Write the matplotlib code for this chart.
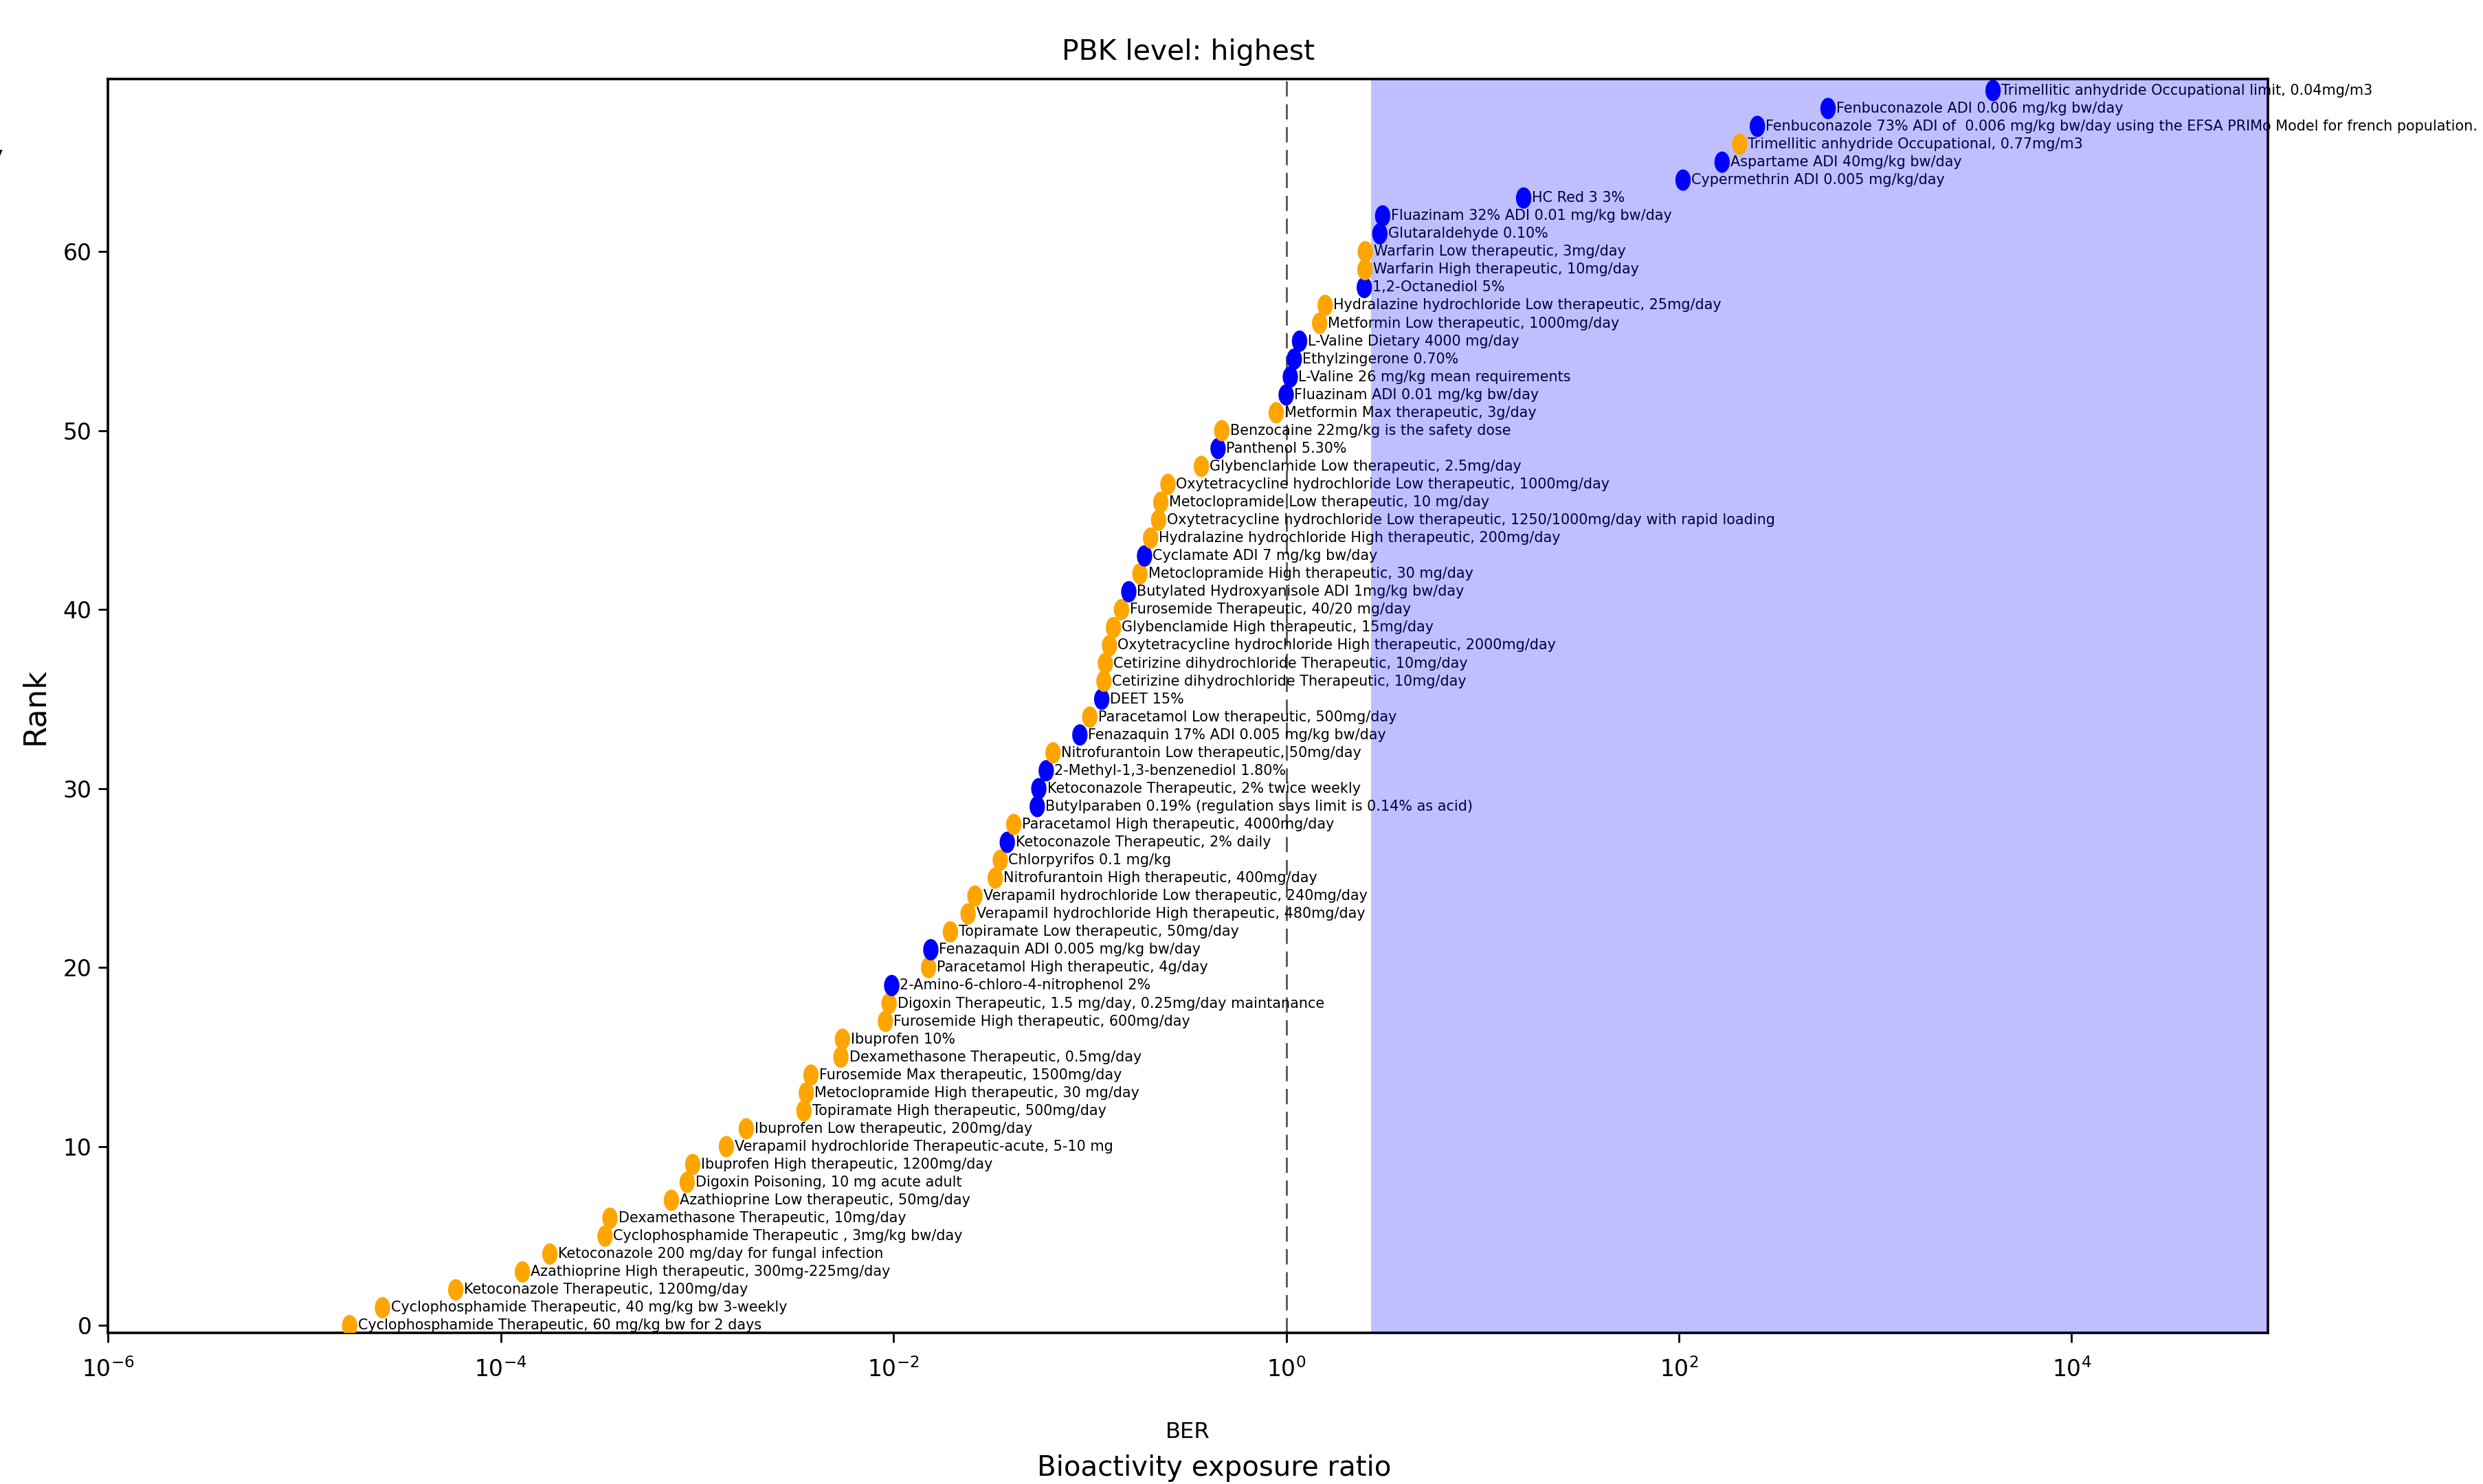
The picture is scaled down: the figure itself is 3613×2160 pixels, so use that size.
import numpy as np
import matplotlib
matplotlib.use('Agg')
import matplotlib.pyplot as plt
from matplotlib.font_manager import FontProperties
from matplotlib.path import Path
from matplotlib.ticker import NullLocator

# ranked substances (rank 0 = lowest BER)
labels = [
    "Cyclophosphamide Therapeutic, 60 mg/kg bw for 2 days",
    "Cyclophosphamide Therapeutic, 40 mg/kg bw 3-weekly",
    "Ketoconazole Therapeutic, 1200mg/day",
    "Azathioprine High therapeutic, 300mg-225mg/day",
    "Ketoconazole 200 mg/day for fungal infection",
    "Cyclophosphamide Therapeutic , 3mg/kg bw/day",
    "Dexamethasone Therapeutic, 10mg/day",
    "Azathioprine Low therapeutic, 50mg/day",
    "Digoxin Poisoning, 10 mg acute adult",
    "Ibuprofen High therapeutic, 1200mg/day",
    "Verapamil hydrochloride Therapeutic-acute, 5-10 mg",
    "Ibuprofen Low therapeutic, 200mg/day",
    "Topiramate High therapeutic, 500mg/day",
    "Metoclopramide High therapeutic, 30 mg/day",
    "Furosemide Max therapeutic, 1500mg/day",
    "Dexamethasone Therapeutic, 0.5mg/day",
    "Ibuprofen 10%",
    "Furosemide High therapeutic, 600mg/day",
    "Digoxin Therapeutic, 1.5 mg/day, 0.25mg/day maintanance",
    "2-Amino-6-chloro-4-nitrophenol 2%",
    "Paracetamol High therapeutic, 4g/day",
    "Fenazaquin ADI 0.005 mg/kg bw/day",
    "Topiramate Low therapeutic, 50mg/day",
    "Verapamil hydrochloride High therapeutic, 480mg/day",
    "Verapamil hydrochloride Low therapeutic, 240mg/day",
    "Nitrofurantoin High therapeutic, 400mg/day",
    "Chlorpyrifos 0.1 mg/kg",
    "Ketoconazole Therapeutic, 2% daily",
    "Paracetamol High therapeutic, 4000mg/day",
    "Butylparaben 0.19% (regulation says limit is 0.14% as acid)",
    "Ketoconazole Therapeutic, 2% twice weekly",
    "2-Methyl-1,3-benzenediol 1.80%",
    "Nitrofurantoin Low therapeutic, 50mg/day",
    "Fenazaquin 17% ADI 0.005 mg/kg bw/day",
    "Paracetamol Low therapeutic, 500mg/day",
    "DEET 15%",
    "Cetirizine dihydrochloride Therapeutic, 10mg/day",
    "Cetirizine dihydrochloride Therapeutic, 10mg/day",
    "Oxytetracycline hydrochloride High therapeutic, 2000mg/day",
    "Glybenclamide High therapeutic, 15mg/day",
    "Furosemide Therapeutic, 40/20 mg/day",
    "Butylated Hydroxyanisole ADI 1mg/kg bw/day",
    "Metoclopramide High therapeutic, 30 mg/day",
    "Cyclamate ADI 7 mg/kg bw/day",
    "Hydralazine hydrochloride High therapeutic, 200mg/day",
    "Oxytetracycline hydrochloride Low therapeutic, 1250/1000mg/day with rapid loading",
    "Metoclopramide Low therapeutic, 10 mg/day",
    "Oxytetracycline hydrochloride Low therapeutic, 1000mg/day",
    "Glybenclamide Low therapeutic, 2.5mg/day",
    "Panthenol 5.30%",
    "Benzocaine 22mg/kg is the safety dose",
    "Metformin Max therapeutic, 3g/day",
    "Fluazinam ADI 0.01 mg/kg bw/day",
    "L-Valine 26 mg/kg mean requirements",
    "Ethylzingerone 0.70%",
    "L-Valine Dietary 4000 mg/day",
    "Metformin Low therapeutic, 1000mg/day",
    "Hydralazine hydrochloride Low therapeutic, 25mg/day",
    "1,2-Octanediol 5%",
    "Warfarin High therapeutic, 10mg/day",
    "Warfarin Low therapeutic, 3mg/day",
    "Glutaraldehyde 0.10%",
    "Fluazinam 32% ADI 0.01 mg/kg bw/day",
    "HC Red 3 3%",
    "Cypermethrin ADI 0.005 mg/kg/day",
    "Aspartame ADI 40mg/kg bw/day",
    "Trimellitic anhydride Occupational, 0.77mg/m3",
    "Fenbuconazole 73% ADI of  0.006 mg/kg bw/day using the EFSA PRIMo Model for french population.",
    "Fenbuconazole ADI 0.006 mg/kg bw/day",
    "Trimellitic anhydride Occupational limit, 0.04mg/m3",
]

ber = [
    1.7e-5, 2.5e-5, 5.9e-5, 1.29e-4, 1.78e-4, 3.4e-4, 3.6e-4, 7.4e-4, 8.9e-4, 9.5e-4,
    1.41e-3, 1.78e-3, 3.5e-3, 3.6e-3, 3.8e-3, 5.4e-3, 5.5e-3, 9.1e-3, 9.5e-3, 9.8e-3,
    1.51e-2, 1.55e-2, 1.95e-2, 2.4e-2, 2.6e-2, 3.3e-2, 3.5e-2, 3.8e-2, 4.1e-2, 5.4e-2,
    5.5e-2, 6.0e-2, 6.5e-2, 8.9e-2, 0.100, 0.115, 0.118, 0.120, 0.126, 0.132,
    0.145, 0.158, 0.180, 0.190, 0.204, 0.224, 0.230, 0.250, 0.37, 0.45,
    0.47, 0.89, 1.00, 1.05, 1.10, 1.17, 1.48, 1.58, 2.50, 2.52,
    2.53, 3.0, 3.1, 16.2, 105, 166, 204, 251, 575, 3980,
]

# 1 = therapeutic / exposure dose (orange), 0 = regulatory limit (blue)
therapeutic = [
    1, 1, 1, 1, 1, 1, 1, 1, 1, 1,
    1, 1, 1, 1, 1, 1, 1, 1, 1, 0,
    1, 0, 1, 1, 1, 1, 1, 0, 1, 0,
    0, 0, 1, 0, 1, 0, 1, 1, 1, 1,
    1, 0, 1, 0, 1, 1, 1, 1, 1, 0,
    1, 1, 0, 0, 0, 0, 1, 1, 0, 1,
    1, 0, 0, 0, 0, 0, 1, 0, 0, 0,
]

ber_threshold = 2.7
title = "PBK level: highest"

rank = np.arange(len(ber))
colours = np.where(np.array(therapeutic) == 1, 'orange', 'blue')

fig = plt.figure(figsize=(18.065, 10.8), dpi=200)
renderer = fig.canvas.get_renderer()


def fit_size(s, width_px):
    # font size (pt) at which s is width_px wide
    w, h, d = renderer.get_text_width_height_descent(
        s, FontProperties(family='DejaVu Sans', size=10), ismath=False)
    return 10 * width_px / w


# the original text is squeezed sideways, so match the widths
label_size = fit_size(labels[0], 587)
title_size = fit_size(title, 368)
tick_size = fit_size("60", 42)
ber_size = fit_size("BER", 65)
rank_size = fit_size("Rank", 112)

ax = fig.add_axes([0.0435, 0.1019, 0.8699, 0.8449])

# slightly tall dots, like the stretched original
t = np.linspace(0, 2 * np.pi, 60)
dot = Path(np.column_stack([0.72 * np.cos(t), np.sin(t)]))
ax.scatter(ber, rank, c=colours, s=125, marker=dot, linewidths=0, zorder=6)

for x, r, lab in zip(ber, rank, labels):
    ax.annotate(lab, (x, r), xytext=(4.3, 0), textcoords='offset points',
                fontsize=label_size, va='center', ha='left',
                zorder=3, annotation_clip=False)

ax.axvline(1, color='#555555', lw=1.0, ls=(0, (8, 4)), zorder=2)
ax.axvspan(ber_threshold, 1e5, color='blue', alpha=0.25, lw=0, zorder=5)

ax.set_xscale('log')
ax.set_xlim(1e-6, 1e5)
ax.set_ylim(-0.4, 69.65)
ax.set_xticks([1e-6, 1e-4, 1e-2, 1, 1e2, 1e4])
ax.xaxis.set_minor_locator(NullLocator())
ax.set_yticks([0, 10, 20, 30, 40, 50, 60])
ax.tick_params(labelsize=tick_size, length=5, width=1)
ax.tick_params(axis='x', pad=8)
for s in ax.spines.values():
    s.set_linewidth(1.3)

ax.set_title(title, fontsize=title_size, pad=10)
ax.set_xlabel("BER", fontsize=ber_size, labelpad=21)
ax.set_ylabel("Rank", fontsize=rank_size, labelpad=7)

fig.text(0.489, 0.0106, "Bioactivity exposure ratio", fontsize=14.5,
         ha='center', va='center')
fig.text(0.0014, 0.8889, "y", fontsize=14.5, ha='right', va='baseline')

fig.savefig('out.png', dpi=200)
